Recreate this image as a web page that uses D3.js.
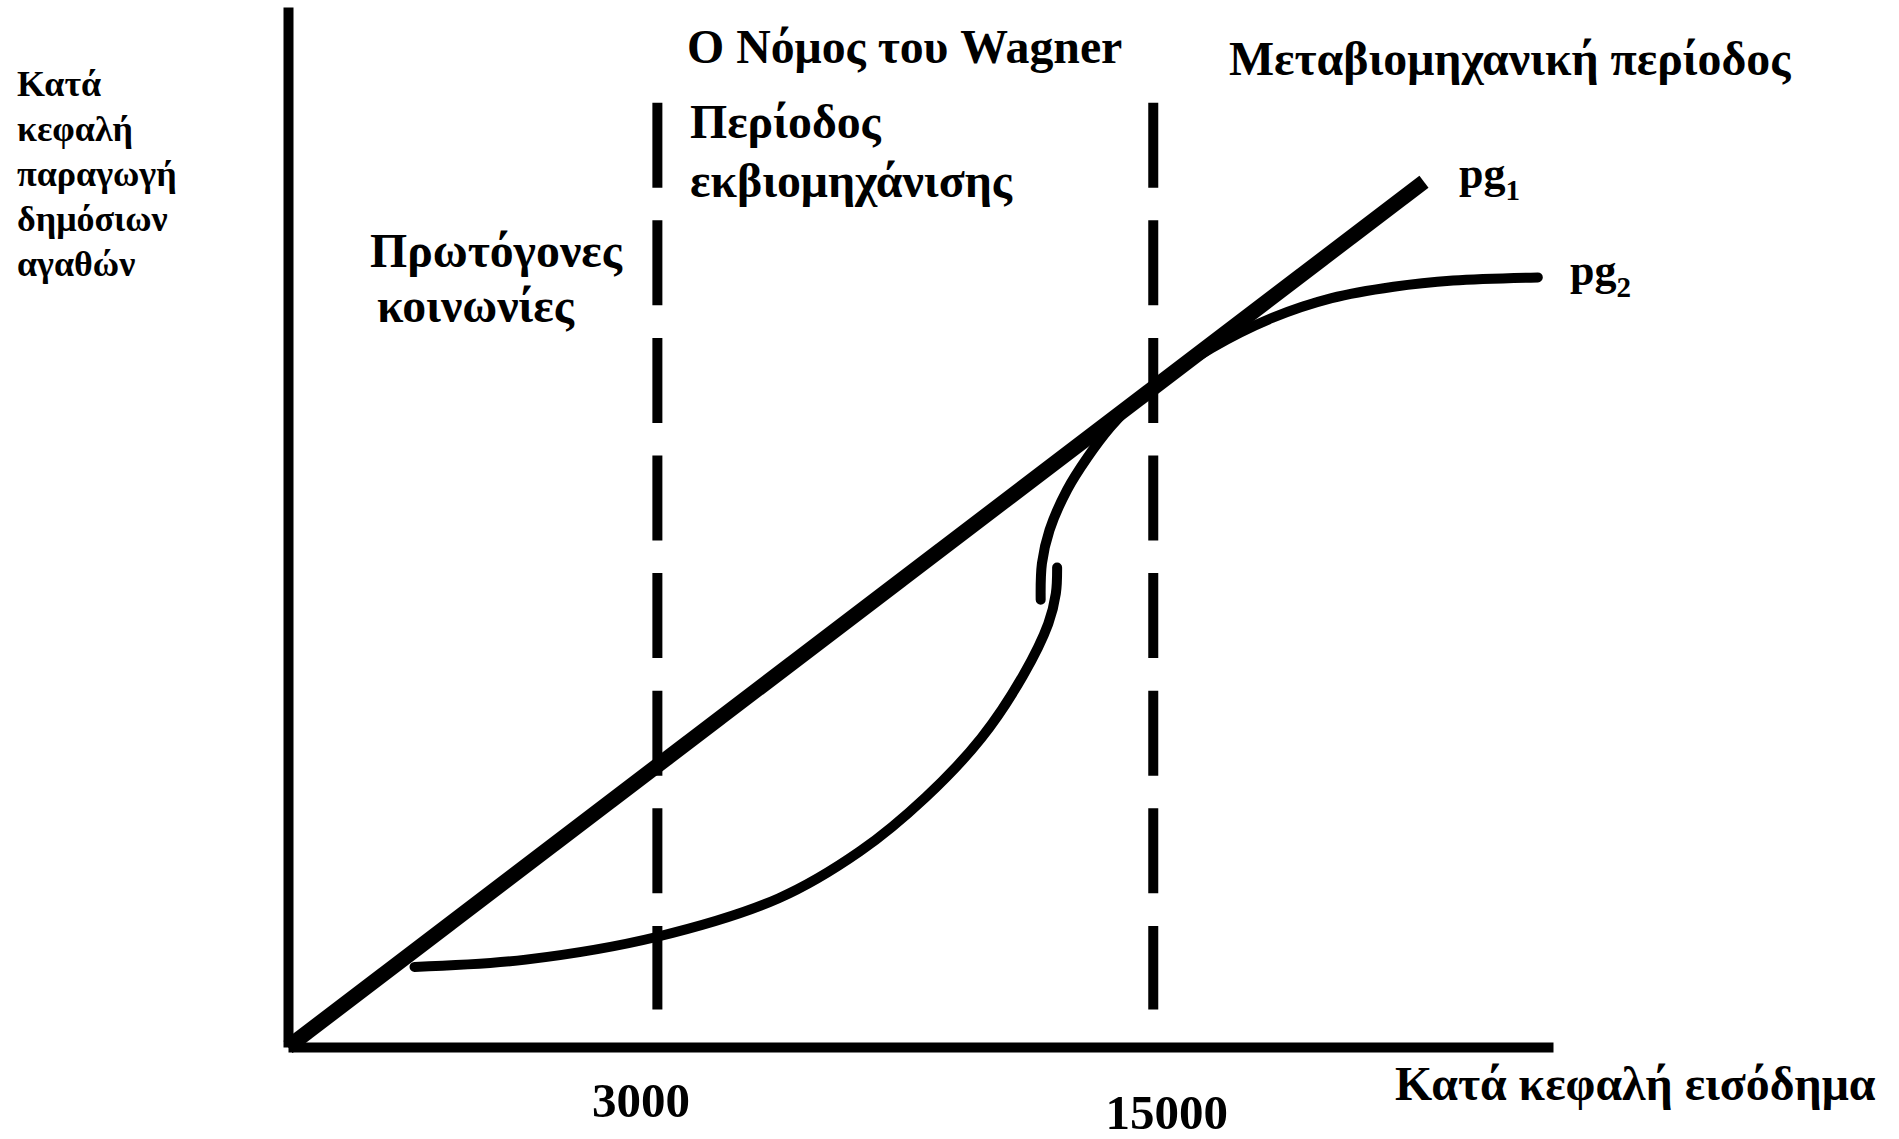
<!DOCTYPE html>
<html>
<head>
<meta charset="utf-8">
<script src="https://cdn.jsdelivr.net/npm/d3@7"></script>
<style>
body { margin: 0; background: #fff; }
text { font-family: "Liberation Serif", "Times New Roman", serif; font-weight: bold; fill: #000; }
</style>
</head>
<body>
<div id="chart"></div>
<script>
// schematic units: both axes run 0..100 (the figure has no real scale)
var pg1X = [0, 89.8];
var pg1Y = [0, 83.2];

// pg2 is drawn as two overlapping strokes, like the hand drawn S-curve
var pg2LowX = [10.0, 18.8, 29.2, 38.8, 45.2, 50.4, 54.8, 58.1, 60.1, 60.7, 60.8];
var pg2LowY = [7.7, 8.4, 10.6, 14.3, 18.8, 24.0, 29.7, 35.7, 40.7, 43.6, 46.1];
var pg2HighX = [59.5, 59.6, 60.2, 61.6, 63.2, 65.0, 66.8, 68.1, 73.0, 77.8, 82.5, 87.4, 92.1, 98.8];
var pg2HighY = [43.0, 46.5, 49.7, 53.6, 56.7, 59.6, 61.9, 63.2, 67.2, 70.1, 72.0, 73.1, 73.7, 74.0];

// income thresholds between the periods
var periodX = [29.2, 68.4];
var tickLabels = ["3000", "15000"];

var yTitle = ["Κατά", "κεφαλή", "παραγωγή", "δημόσιων", "αγαθών"];
var xTitle = "Κατά κεφαλή εισόδημα";
var notes = ["Ο Νόμος του Wagner", "Μεταβιομηχανική περίοδος", "Περίοδος", "εκβιομηχάνισης", "Πρωτόγονες", "κοινωνίες"];
var curveNames = ["pg", "pg"];
var curveSubs = ["1", "2"];

function makeChart() {
    var width = 1899, height = 1139;
    var margin = {top: 7, left: 288};
    var plotW = 1265, plotH = 1040;

    var svg = d3.select("#chart").append("svg")
        .attr("width", width)
        .attr("height", height);
    var g = svg.append("g")
        .attr("transform", "translate(" + margin.left + "," + margin.top + ")");

    var x = d3.scaleLinear().domain([0, 100]).range([0, plotW]);
    var y = d3.scaleLinear().domain([0, 100]).range([plotH, 0]);

    // dashed period boundaries
    g.selectAll(".period").data(periodX)
        .enter().append("line")
        .attr("class", "period")
        .attr("x1", function(d) { return x(d); })
        .attr("x2", function(d) { return x(d); })
        .attr("y1", y(90.8))
        .attr("y2", y(3.6))
        .attr("stroke", "#000")
        .attr("stroke-width", 10)
        .attr("stroke-dasharray", "85 32.6");

    // axes: thick lines, no ticks
    var yAxis = d3.axisLeft(y).tickValues([]).tickSize(0);
    g.append("g").call(yAxis)
        .select(".domain").attr("stroke-width", 10);

    var xAxis = d3.axisBottom(x).tickValues(periodX).tickSize(0)
        .tickFormat(function(d, i) { return tickLabels[i]; });
    var xg = g.append("g").attr("transform", "translate(0," + plotH + ")").call(xAxis);
    xg.select(".domain").attr("stroke-width", 10);
    var tickShift = [[-17, 70], [13, 82]]; // labels sit a little off the dashed lines
    xg.selectAll(".tick text")
        .attr("dy", null)
        .attr("x", function(d, i) { return tickShift[i][0]; })
        .attr("y", function(d, i) { return tickShift[i][1]; })
        .style("font-family", "'Liberation Serif', serif")
        .style("font-weight", "bold")
        .style("font-size", "49px");

    var line = d3.line()
        .x(function(d) { return x(d[0]); })
        .y(function(d) { return y(d[1]); });
    var smooth = d3.line()
        .x(function(d) { return x(d[0]); })
        .y(function(d) { return y(d[1]); })
        .curve(d3.curveCatmullRom.alpha(0.5));

    var low = pg2LowX.map(function(v, i) { return [v, pg2LowY[i]]; });
    var high = pg2HighX.map(function(v, i) { return [v, pg2HighY[i]]; });
    g.selectAll(".pg2").data([low, high])
        .enter().append("path")
        .attr("class", "pg2")
        .attr("d", smooth)
        .attr("fill", "none")
        .attr("stroke", "#000")
        .attr("stroke-width", 10)
        .attr("stroke-linecap", "round");

    g.append("path")
        .datum(pg1X.map(function(v, i) { return [v, pg1Y[i]]; }))
        .attr("d", line)
        .attr("fill", "none")
        .attr("stroke", "#000")
        .attr("stroke-width", 15);

    // curve labels with subscripts
    var curvePos = [[1459, 188], [1570, 285]];
    curveNames.forEach(function(n, i) {
        var t = svg.append("text")
            .attr("x", curvePos[i][0])
            .attr("y", curvePos[i][1])
            .style("font-size", "44px")
            .text(n);
        t.append("tspan")
            .attr("dy", 12)
            .style("font-size", "29px")
            .text(curveSubs[i]);
    });

    // y axis title, stacked words
    svg.selectAll(".ytitle").data(yTitle)
        .enter().append("text")
        .attr("class", "ytitle")
        .attr("x", 17)
        .attr("y", function(d, i) { return 96 + i * 45; })
        .style("font-size", "36px")
        .text(function(d) { return d; });

    svg.append("text")
        .attr("x", 1395)
        .attr("y", 1100)
        .style("font-size", "47.8px")
        .text(xTitle);

    // period annotations
    var notePos = [[687, 63], [1229, 75], [690, 138], [690, 197], [370, 267], [377, 322]];
    svg.selectAll(".note").data(notes)
        .enter().append("text")
        .attr("class", "note")
        .attr("x", function(d, i) { return notePos[i][0]; })
        .attr("y", function(d, i) { return notePos[i][1]; })
        .style("font-size", "47.8px")
        .text(function(d) { return d; });
}

makeChart();
</script>
</body>
</html>
